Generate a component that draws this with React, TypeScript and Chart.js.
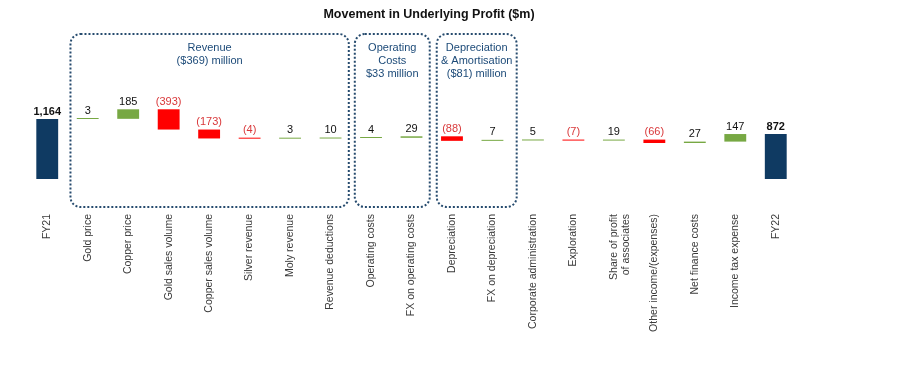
import React, { useEffect, useRef } from "react";
import { Chart, registerables } from "chart.js";

Chart.register(...registerables);

const categories: (string | string[])[] = [
  "FY21",
  "Gold price",
  "Copper price",
  "Gold sales volume",
  "Copper sales volume",
  "Silver revenue",
  "Moly revenue",
  "Revenue deductions",
  "Operating costs",
  "FX on operating costs",
  "Depreciation",
  "FX on depreciation",
  "Corporate administration",
  "Exploration",
  ["Share of profit", "of associates"],
  "Other income/(expenses)",
  "Net finance costs",
  "Income tax expense",
  "FY22",
];

// first and last are totals, the rest are movements
const movements = [1164, 3, 185, -393, -173, -4, 3, 10, 4, 29, -88, 7, 5, -7, 19, -66, 27, 147, 872];

const groups = [
  { from: 1, to: 7, lines: ["Revenue", "($369) million"] },
  { from: 8, to: 9, lines: ["Operating", "Costs", "$33 million"] },
  { from: 10, to: 11, lines: ["Depreciation", "& Amortisation", "($81) million"] },
];
// box insets (left, right) in px, styling only
const boxInsets = [
  [3, -2],
  [4, -2],
  [5, 4],
];

const TITLE = "Movement in Underlying Profit ($m)";

const FONT = "'Liberation Sans', Arial, sans-serif";
const NAVY = "#0f3a62";
const GREEN = "#77a843";
const RED = "#ff0000";
const RED_TEXT = "#d9383a";
const BOX = "#264b6e";
const BOX_TEXT = "#1c4a78";

function isTotal(i: number) {
  return i === 0 || i === movements.length - 1;
}

function buildRanges(): [number, number][] {
  const out: [number, number][] = [];
  let running = 0;
  movements.forEach((v, i) => {
    if (isTotal(i)) {
      out.push([0, v]);
      running = v;
    } else {
      out.push([running, running + v]);
      running += v;
    }
  });
  return out;
}

function fmt(v: number, i: number) {
  const s = Math.abs(v).toLocaleString("en-US");
  if (isTotal(i)) return s;
  return v < 0 ? `(${s})` : s;
}

const overlay = {
  id: "overlay",
  afterDatasetsDraw(chart: any) {
    const ctx = chart.ctx as CanvasRenderingContext2D;
    const xs = chart.scales.x;
    const meta = chart.getDatasetMeta(0);
    ctx.save();
    // value labels
    meta.data.forEach((bar: any, i: number) => {
      const top = Math.min(bar.y, bar.base);
      const v = movements[i];
      ctx.font = `${isTotal(i) ? "bold " : ""}11px ${FONT}`;
      ctx.fillStyle = !isTotal(i) && v < 0 ? RED_TEXT : "#111";
      ctx.textAlign = "center";
      ctx.textBaseline = "bottom";
      ctx.fillText(fmt(v, i), bar.x, top - 2);
    });
    // group boxes
    const step = xs.getPixelForValue(1) - xs.getPixelForValue(0);
    const top = 26;
    const bottom = 199;
    const r = 10;
    groups.forEach((g, gi) => {
      const l = xs.getPixelForValue(g.from) - step / 2 + boxInsets[gi][0];
      const rr = xs.getPixelForValue(g.to) + step / 2 + boxInsets[gi][1];
      ctx.beginPath();
      ctx.strokeStyle = BOX;
      ctx.lineWidth = 2;
      ctx.setLineDash([2, 2]);
      ctx.moveTo(l + r, top);
      ctx.lineTo(rr - r, top);
      ctx.arcTo(rr, top, rr, top + r, r);
      ctx.lineTo(rr, bottom - r);
      ctx.arcTo(rr, bottom, rr - r, bottom, r);
      ctx.lineTo(l + r, bottom);
      ctx.arcTo(l, bottom, l, bottom - r, r);
      ctx.lineTo(l, top + r);
      ctx.arcTo(l, top, l + r, top, r);
      ctx.closePath();
      ctx.stroke();
      ctx.setLineDash([]);
      ctx.font = `11px ${FONT}`;
      ctx.fillStyle = BOX_TEXT;
      ctx.textAlign = "center";
      ctx.textBaseline = "middle";
      const cx = (l + rr) / 2;
      g.lines.forEach((t, k) => ctx.fillText(t, cx, 40 + k * 13));
    });
    // title
    ctx.font = `bold 12.5px ${FONT}`;
    ctx.fillStyle = "#111";
    ctx.textAlign = "center";
    ctx.textBaseline = "top";
    ctx.fillText(TITLE, 421, 0);
    ctx.restore();
  },
};

export default function App() {
  const ref = useRef<HTMLCanvasElement | null>(null);
  useEffect(() => {
    if (!ref.current) return;
    const ranges = buildRanges();
    const colors = movements.map((v, i) => (isTotal(i) ? NAVY : v >= 0 ? GREEN : RED));
    const chart = new Chart(ref.current, {
      type: "bar",
      data: {
        labels: categories,
        datasets: [
          {
            data: ranges as any,
            backgroundColor: colors,
            borderWidth: 0,
            categoryPercentage: 1,
            barPercentage: 0.54,
            minBarLength: 1,
          },
        ],
      },
      options: {
        responsive: false,
        animation: false,
        layout: { padding: { left: 19, right: 96, top: 0, bottom: 0 } },
        plugins: { legend: { display: false }, tooltip: { enabled: false }, title: { display: false } },
        scales: {
          x: {
            grid: { display: false, drawTicks: false },
            border: { display: false },
            ticks: {
              autoSkip: false,
              minRotation: 90,
              maxRotation: 90,
              padding: 3,
              color: "#3a3a3a",
              font: { size: 10.5, family: FONT },
            },
            afterFit: (scale: any) => {
              scale.height = 160;
            },
          },
          y: {
            display: false,
            min: -621,
            max: 3317,
          },
        },
      },
      plugins: [overlay],
    });
    return () => chart.destroy();
  }, []);
  return (
    <div style={{ width: 884, height: 363 }}>
      <canvas ref={ref} width={884} height={363} style={{ display: "block" }} />
    </div>
  );
}
